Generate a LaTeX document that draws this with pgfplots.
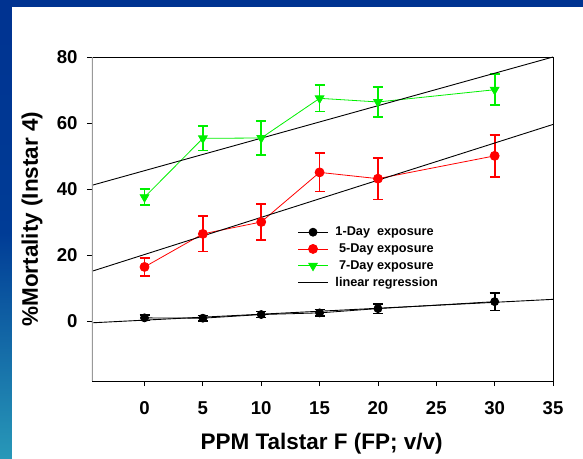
\documentclass[border=0pt]{standalone}
\usepackage{pgfplots}
\pgfplotsset{compat=1.18}
\usepackage{fontspec}
\setmainfont{Liberation Sans}
\pgfdeclarelayer{bg}
\pgfsetlayers{bg,main}
\definecolor{bgblue}{RGB}{0,51,145}
\definecolor{bgteal}{RGB}{40,152,184}
\definecolor{mygreen}{RGB}{0,240,0}
\definecolor{myred}{RGB}{255,0,0}
\begin{document}
\begin{tikzpicture}
\begin{axis}[
  scale only axis, width=461pt, height=324pt,
  xmin=-4.5, xmax=35, ymin=-18, ymax=80,
  xtick={0,5,10,15,20,25,30,35},
  ytick={0,20,40,60,80},
  tick align=outside,
  major tick length=5pt,
  tick style={black, line width=0.8pt},
  xtick pos=bottom, ytick pos=left,
  axis line style={black, line width=0.9pt},
  /pgf/number format/assume math mode=true,
  tick label style={font=\fontsize{18.6}{18.6}\selectfont\bfseries},
  xticklabel style={yshift=-12pt},
  yticklabel style={xshift=-6pt},
  xlabel={PPM Talstar F (FP; v/v)},
  ylabel={\%Mortality (Instar 4)},
  label style={font=\fontsize{22.5}{22.5}\selectfont\bfseries},
  xlabel style={at={(axis description cs:0.498,-0.192)}, anchor=center},
  ylabel style={at={(axis description cs:-0.130,0.5)}, anchor=center},
  legend cell align=left,
  legend style={draw=none, fill=none, at={(rel axis cs:0.439,0.488)}, anchor=north west,
    font=\fontsize{12.7}{12.7}\selectfont\bfseries, row sep=2.5pt,
    /tikz/every odd column/.append style={column sep=5pt}},
  legend image code/.code={\draw[mark repeat=2,mark phase=2,#1] plot coordinates {(0pt,0pt) (15pt,0pt) (30pt,0pt)};},
  error bars/error bar style={line width=1.8pt},
  error bars/error mark options={rotate=90, mark size=5pt, line width=1.8pt},
]
\addplot[black, line width=0.8pt, mark=*, mark size=4pt,
  error bars/.cd, y dir=both, y explicit]
  coordinates {
  (0,1.1) +- (0,0.8)
  (5,1.0) +- (0,0.8)
  (10,2.1) +- (0,0.9)
  (15,2.6) +- (0,1.0)
  (20,3.9) +- (0,1.5)
  (30,6.0) +- (0,2.7)
  };
\addlegendentry{1-Day\ \ exposure}
\addplot[myred, line width=0.8pt, mark=*, mark size=4.5pt,
  error bars/.cd, y dir=both, y explicit]
  coordinates {
  (0,16.5) +- (0,2.8)
  (5,26.5) +- (0,5.3)
  (10,30.1) +- (0,5.4)
  (15,45.1) +- (0,5.8)
  (20,43.2) +- (0,6.3)
  (30,50.1) +- (0,6.3)
  };
\addlegendentry{\ 5-Day exposure}
\addplot[mygreen, line width=0.8pt, mark=triangle*, mark size=5pt, mark options={rotate=180},
  error bars/.cd, y dir=both, y explicit]
  coordinates {
  (0,37.6) +- (0,2.4)
  (5,55.4) +- (0,3.7)
  (10,55.5) +- (0,5.2)
  (15,67.5) +- (0,4.0)
  (20,66.4) +- (0,4.6)
  (30,70.1) +- (0,4.7)
  };
\addlegendentry{\ 7-Day exposure}
\addplot[black, line width=0.9pt, forget plot] coordinates {(-4.5,41.2) (35,80)};
\addplot[black, line width=0.9pt, forget plot] coordinates {(-4.5,15.2) (35,59.6)};
\addplot[black, line width=0.9pt] coordinates {(-4.5,-0.4) (35,6.7)};
\addlegendentry{linear regression}
\draw[gray!80, line width=1.3pt] (rel axis cs:0,0) -- (rel axis cs:0,1);
\coordinate (SW) at (rel axis cs:0,0);
\end{axis}
\begin{scope}[shift={(SW)}, x=1pt, y=1pt]
\begin{pgfonlayer}{bg}
\fill[white] (-92,-77) rectangle (491,381);
\fill[bgblue] (-92,374) rectangle (491,381);
\shade[top color=bgblue, bottom color=bgteal, middle color={rgb,255:red,0;green,60;blue,150}] (-92,-77) rectangle (-80,374);
\end{pgfonlayer}
\pgfresetboundingbox
\useasboundingbox (-92,-77) rectangle (491,381);
\end{scope}
\end{tikzpicture}
\end{document}
